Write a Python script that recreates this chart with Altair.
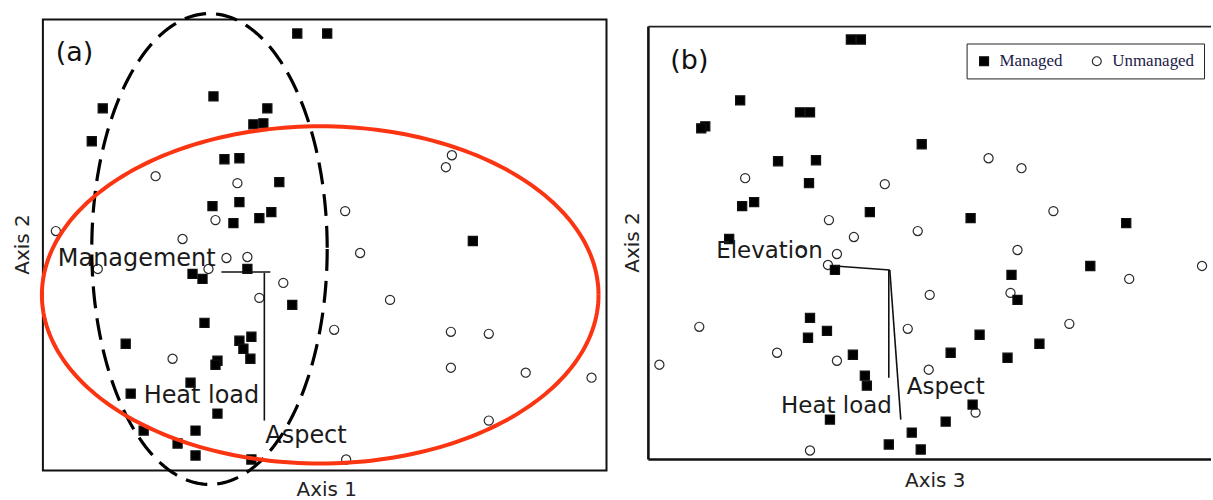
import altair as alt
import numpy as np
import pandas as pd

GROUPS = ["Managed", "Unmanaged"]
FONT = "DejaVu Sans"

# ---------------- Panel (a): Axis 1 vs Axis 2 (ordination units)
a_man_x = [297, 327, 213, 102, 267, 91, 253, 263, 224, 239, 279, 212, 239, 233, 259, 271, 473,
           247, 192, 202, 292, 204, 125, 251, 239, 243, 250, 217, 215, 190, 130, 217, 195, 143,
           177, 195, 251]
a_man_y = [32, 32, 95, 107, 107, 140, 123, 122, 158, 157, 181, 205, 201, 222, 217, 211, 240,
           268, 273, 278, 304, 322, 343, 336, 340, 348, 358, 360, 364, 382, 393, 413, 430, 430,
           443, 455, 459]
a_unm_x = [452, 446, 155, 237, 345, 215, 55, 182, 360, 226, 247, 208, 97, 283, 259, 390, 334,
           451, 489, 172, 451, 526, 592, 489, 346]
a_unm_y = [154, 166, 175, 182, 210, 219, 230, 238, 252, 257, 256, 268, 268, 282, 297, 299, 329,
           331, 333, 358, 367, 372, 377, 420, 459]

# biplot vectors (origin -> tip) and their labels
a_vec_x = [270, 264]
a_vec_y = [271, 272]
a_vec_x2 = [221, 264]
a_vec_y2 = [271, 420]
a_lab = ["Management", "Heat load", "Aspect"]
a_lab_x = [57, 143, 265]
a_lab_y = [265, 402, 442]

# group ellipses: centre and semi-axes
a_dash_ell = (209, 248, 118, 236)
a_red_ell = (320, 294, 279, 169)

# ---------------- Panel (b): Axis 3 vs Axis 2
b_man_x = [852, 862, 741, 706, 702, 801, 811, 923, 779, 817, 810, 755, 743, 871, 972, 1128, 730,
           836, 1013, 1092, 1019, 811, 828, 809, 981, 952, 1041, 1009, 854, 866, 868, 974, 831,
           947, 913, 890, 922]
b_man_y = [38, 38, 99, 125, 127, 111, 111, 143, 160, 159, 182, 201, 205, 211, 217, 222, 238,
           269, 274, 265, 299, 317, 330, 337, 334, 352, 343, 357, 354, 375, 385, 404, 419,
           421, 432, 444, 449]
b_unm_x = [990, 1023, 746, 886, 1055, 830, 919, 855, 838, 1019, 802, 829, 1204, 1131, 1012, 931,
           700, 909, 1071, 660, 778, 838, 930, 977, 811]
b_unm_y = [157, 167, 177, 183, 210, 219, 230, 236, 253, 249, 251, 264, 265, 278, 292, 294,
           326, 328, 323, 364, 352, 360, 369, 412, 450]

b_vec_x = [891, 890, 891]
b_vec_y = [269, 269, 269]
b_vec_x2 = [836, 890, 902]
b_vec_y2 = [265, 377, 419]
b_lab = ["Elevation", "Aspect", "Heat load"]
b_lab_x = [717, 908, 782]
b_lab_y = [257, 393, 412]

# axis extents (ordination units)
A_X = [42, 607]
A_Y = [18, 470]
B_X = [649, 1213]
B_Y = [18, 459]
B_FRAME_TOP = 25
# figure extent in the same units (keeps the canvas at the figure size)
FIG_X = [0, 1213]
FIG_Y = [0, 500]


def pts(xs, ys, g):
    return pd.DataFrame({"x": xs, "y": ys, "group": g})


def ellipse(cx, cy, rx, ry, n=241):
    t = np.linspace(0, 2 * np.pi, n)
    return pd.DataFrame({"x": cx + rx * np.cos(t), "y": cy + ry * np.sin(t), "i": np.arange(n)})


legend = alt.Legend(title=None, orient="none", legendX=926, legendY=24, direction="horizontal",
                    strokeColor="#222", padding=9, fillColor="white",
                    labelFont="Liberation Serif", labelFontSize=17, labelColor="#1c2048",
                    symbolSize=80, symbolStrokeWidth=1.2,
                    columnPadding=25, labelOffset=7)
shape_enc = alt.Shape("group:N", scale=alt.Scale(domain=GROUPS, range=["square", "circle"]), legend=legend)
fill_enc = alt.Fill("group:N", scale=alt.Scale(domain=GROUPS, range=["#000000", "#ffffff"]), legend=legend)
stroke_enc = alt.Stroke("group:N", scale=alt.Scale(domain=GROUPS, range=["#111111", "#2a2a2a"]), legend=legend)


def axis_x(title, tx, ty):
    return alt.Axis(title=title, labels=False, ticks=False, domain=False, grid=False,
                    titleX=tx, titleY=ty, titleBaseline="middle", titleFont=FONT,
                    titleFontSize=20, titleFontWeight="normal", titleColor="#222")


def axis_y(title, tx, ty):
    return alt.Axis(title=title, labels=False, ticks=False, domain=False, grid=False,
                    titleX=tx, titleY=ty, titleAngle=270, titleBaseline="middle", titleFont=FONT,
                    titleFontSize=20, titleFontWeight="normal", titleColor="#222")


def panel(man_x, man_y, unm_x, unm_y, vx, vy, vx2, vy2, lab, lx, ly, tag, tag_xy,
          xdom, ydom, xtitle, ytitle, xt, yt, lab_size, anchor):
    X = alt.X("x:Q", scale=alt.Scale(domain=xdom, nice=False, zero=False), axis=axis_x(xtitle, xt[0], xt[1]))
    Y = alt.Y("y:Q", scale=alt.Scale(domain=ydom, reverse=True, nice=False, zero=False),
              axis=axis_y(ytitle, yt[0], yt[1]))
    df = pd.concat([pts(unm_x, unm_y, "Unmanaged"), pts(man_x, man_y, "Managed")])
    points = alt.Chart(df).mark_point(size=84, opacity=1, strokeWidth=1.2).encode(
        x=X, y=Y, shape=shape_enc, fill=fill_enc, stroke=stroke_enc)
    vec = alt.Chart(pd.DataFrame({"x": vx, "y": vy, "x2": vx2, "y2": vy2})).mark_rule(
        color="#111", strokeWidth=1.6).encode(x=X, y=Y, x2="x2:Q", y2="y2:Q")
    labels = alt.Chart(pd.DataFrame({"x": lx, "y": ly, "label": lab})).mark_text(
        align="left", baseline="alphabetic", font=FONT, fontSize=lab_size, color="#1a1a1a").encode(
        x=X, y=Y, text="label:N")
    tagc = alt.Chart(pd.DataFrame({"x": [tag_xy[0]], "y": [tag_xy[1]], "label": [tag]})).mark_text(
        align="left", baseline="alphabetic", font=FONT, fontSize=27, color="#111").encode(
        x=X, y=Y, text="label:N")
    anch = alt.Chart(pd.DataFrame({"x": [anchor[0]], "y": [anchor[1]]})).mark_point(
        size=1, opacity=0).encode(x=X, y=Y)
    return X, Y, [anch, points, vec, labels, tagc]


Xa, Ya, layers_a = panel(a_man_x, a_man_y, a_unm_x, a_unm_y, a_vec_x, a_vec_y, a_vec_x2, a_vec_y2,
                         a_lab, a_lab_x, a_lab_y, "(a)", (55, 60), A_X, A_Y, "Axis 1", "Axis 2",
                         (284, 19), (-20, 225), 24, (FIG_X[0], FIG_Y[0]))
frame_a = alt.Chart(pd.DataFrame({"x": [A_X[0]], "y": [A_Y[0]], "x2": [A_X[1]], "y2": [A_Y[1]]})).mark_rect(
    fillOpacity=0, stroke="#111", strokeWidth=2).encode(x=Xa, y=Ya, x2="x2:Q", y2="y2:Q")
dash = alt.Chart(ellipse(*a_dash_ell)).mark_line(color="#000", strokeWidth=3.2, strokeDash=[22, 10]).encode(
    x=Xa, y=Ya, order="i:Q")
red = alt.Chart(ellipse(*a_red_ell)).mark_line(color="#fb3412", strokeWidth=4).encode(
    x=Xa, y=Ya, order="i:Q")
panel_a = alt.layer(frame_a, *layers_a, dash, red).properties(width=565, height=452)

Xb, Yb, layers_b = panel(b_man_x, b_man_y, b_unm_x, b_unm_y, b_vec_x, b_vec_y, b_vec_x2, b_vec_y2,
                         b_lab, b_lab_x, b_lab_y, "(b)", (671, 68), B_X, B_Y, "Axis 3", "Axis 2",
                         (287, 21), (-16, 223), 23, (FIG_X[1], FIG_Y[1]))
frame_b_lb = alt.Chart(pd.DataFrame({"x": [B_X[0], B_X[0]], "y": [B_FRAME_TOP, B_Y[1]],
                                     "x2": [B_X[0], B_X[1]], "y2": [B_Y[1], B_Y[1]]})).mark_rule(
    color="#111", strokeWidth=2.6).encode(x=Xb, y=Yb, x2="x2:Q", y2="y2:Q")
frame_b_top = alt.Chart(pd.DataFrame({"x": [B_X[0]], "y": [B_FRAME_TOP], "x2": [B_X[1]],
                                      "y2": [B_FRAME_TOP]})).mark_rule(
    color="#222", strokeWidth=1.7).encode(x=Xb, y=Yb, x2="x2:Q", y2="y2:Q")
panel_b = alt.layer(frame_b_lb, frame_b_top, *layers_b).properties(width=564, height=441)

chart = alt.hconcat(panel_a, panel_b, spacing=42, bounds="flush").properties(
    padding=0,
    background="white",
).configure_view(stroke=None)

chart.save("out.html", embed_options={"renderer": "svg", "actions": False})
